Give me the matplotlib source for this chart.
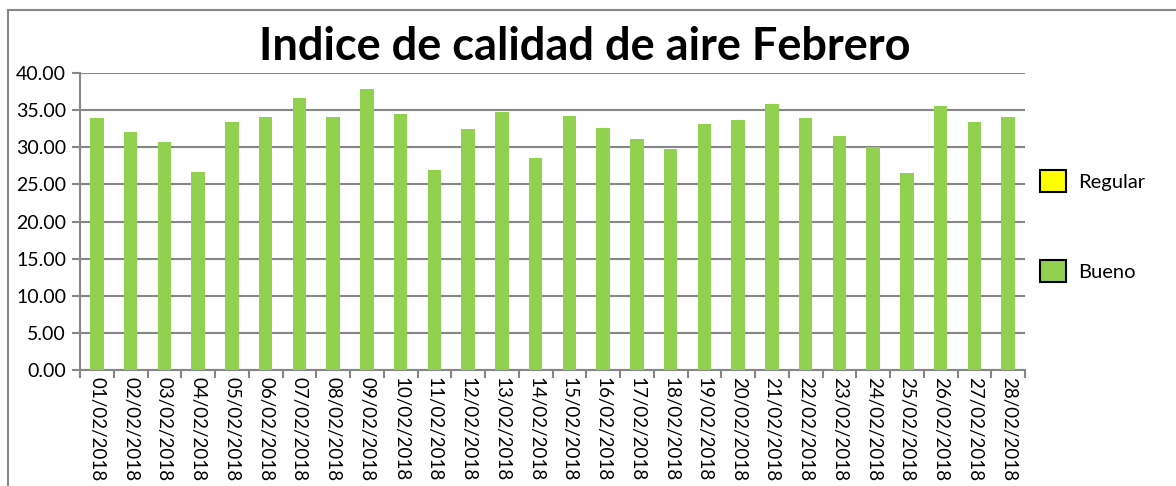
import matplotlib
matplotlib.use("Agg")
import matplotlib.pyplot as plt
import numpy as np
from matplotlib.patches import Patch, Rectangle

# valores
fechas = ["%02d/02/2018" % d for d in range(1, 29)]
indice = [33.9, 32.1, 30.7, 26.7, 33.4, 34.1, 36.6, 34.05, 37.8, 34.5,
          26.95, 32.5, 34.8, 28.5, 34.2, 32.65, 31.1, 29.8, 33.15, 33.7,
          35.8, 33.9, 31.5, 30.05, 26.5, 35.6, 33.35, 34.05]
series = ["Regular", "Bueno"]
colores = ["#FFFF00", "#92D050"]

plt.rcParams['font.family'] = ['Lato', 'DejaVu Sans']
gris = "#868686"

fig = plt.figure(figsize=(11.76, 4.86), dpi=100)
# marco del area del grafico
fig.patches.append(Rectangle((8 / 1176, -0.1), 1.2, 1.1 - 10 / 486, transform=fig.transFigure,
                             fill=False, edgecolor=gris, linewidth=1.5))

ax = fig.add_axes([80 / 1176, 1 - 370 / 486, (1025 - 80) / 1176, (370 - 73) / 486])
x = np.arange(len(fechas))
ax.bar(x, indice, width=0.4, color=colores[1], zorder=3)

ax.set_ylim(0, 40)
ax.set_xlim(-0.5, len(fechas) - 0.5)
ax.set_yticks(np.arange(0, 41, 5))
ax.set_yticklabels(["%.2f" % v for v in np.arange(0, 41, 5)], fontsize=14)
ax.yaxis.grid(True, color=gris, linewidth=1.5, zorder=0)

# marcas entre categorias, etiquetas centradas
ax.set_xticks(np.arange(-0.5, len(fechas)), labels=[""] * (len(fechas) + 1))
ax.set_xticks(x, labels=fechas, minor=True)
ax.tick_params(axis='x', which='major', length=6, width=1.5, color=gris)
ax.tick_params(axis='x', which='minor', length=0, pad=5, labelsize=13.5, labelrotation=270)
ax.tick_params(axis='y', length=6, width=1.5, color=gris, pad=4)
for lbl in ax.get_xticklabels(minor=True):
    lbl.set_verticalalignment('top')

for s in ['top', 'right']:
    ax.spines[s].set_visible(False)
for s in ['left', 'bottom']:
    ax.spines[s].set_color(gris)
    ax.spines[s].set_linewidth(1.5)

fig.text(585 / 1176, 1 - 47 / 486, "Indice de calidad de aire Febrero", fontsize=32.5,
         fontweight='bold', ha='center', va='center')

handles = [Patch(facecolor=c, edgecolor='black', linewidth=1.5) for c in colores]
fig.legend(handles, series, loc='center left', bbox_to_anchor=(1022 / 1176, 1 - 226 / 486),
           frameon=False, fontsize=14.5, labelspacing=3.4, handlelength=1.3, handleheight=1.3,
           handletextpad=0.6)

fig.savefig("out.png", dpi=100)
